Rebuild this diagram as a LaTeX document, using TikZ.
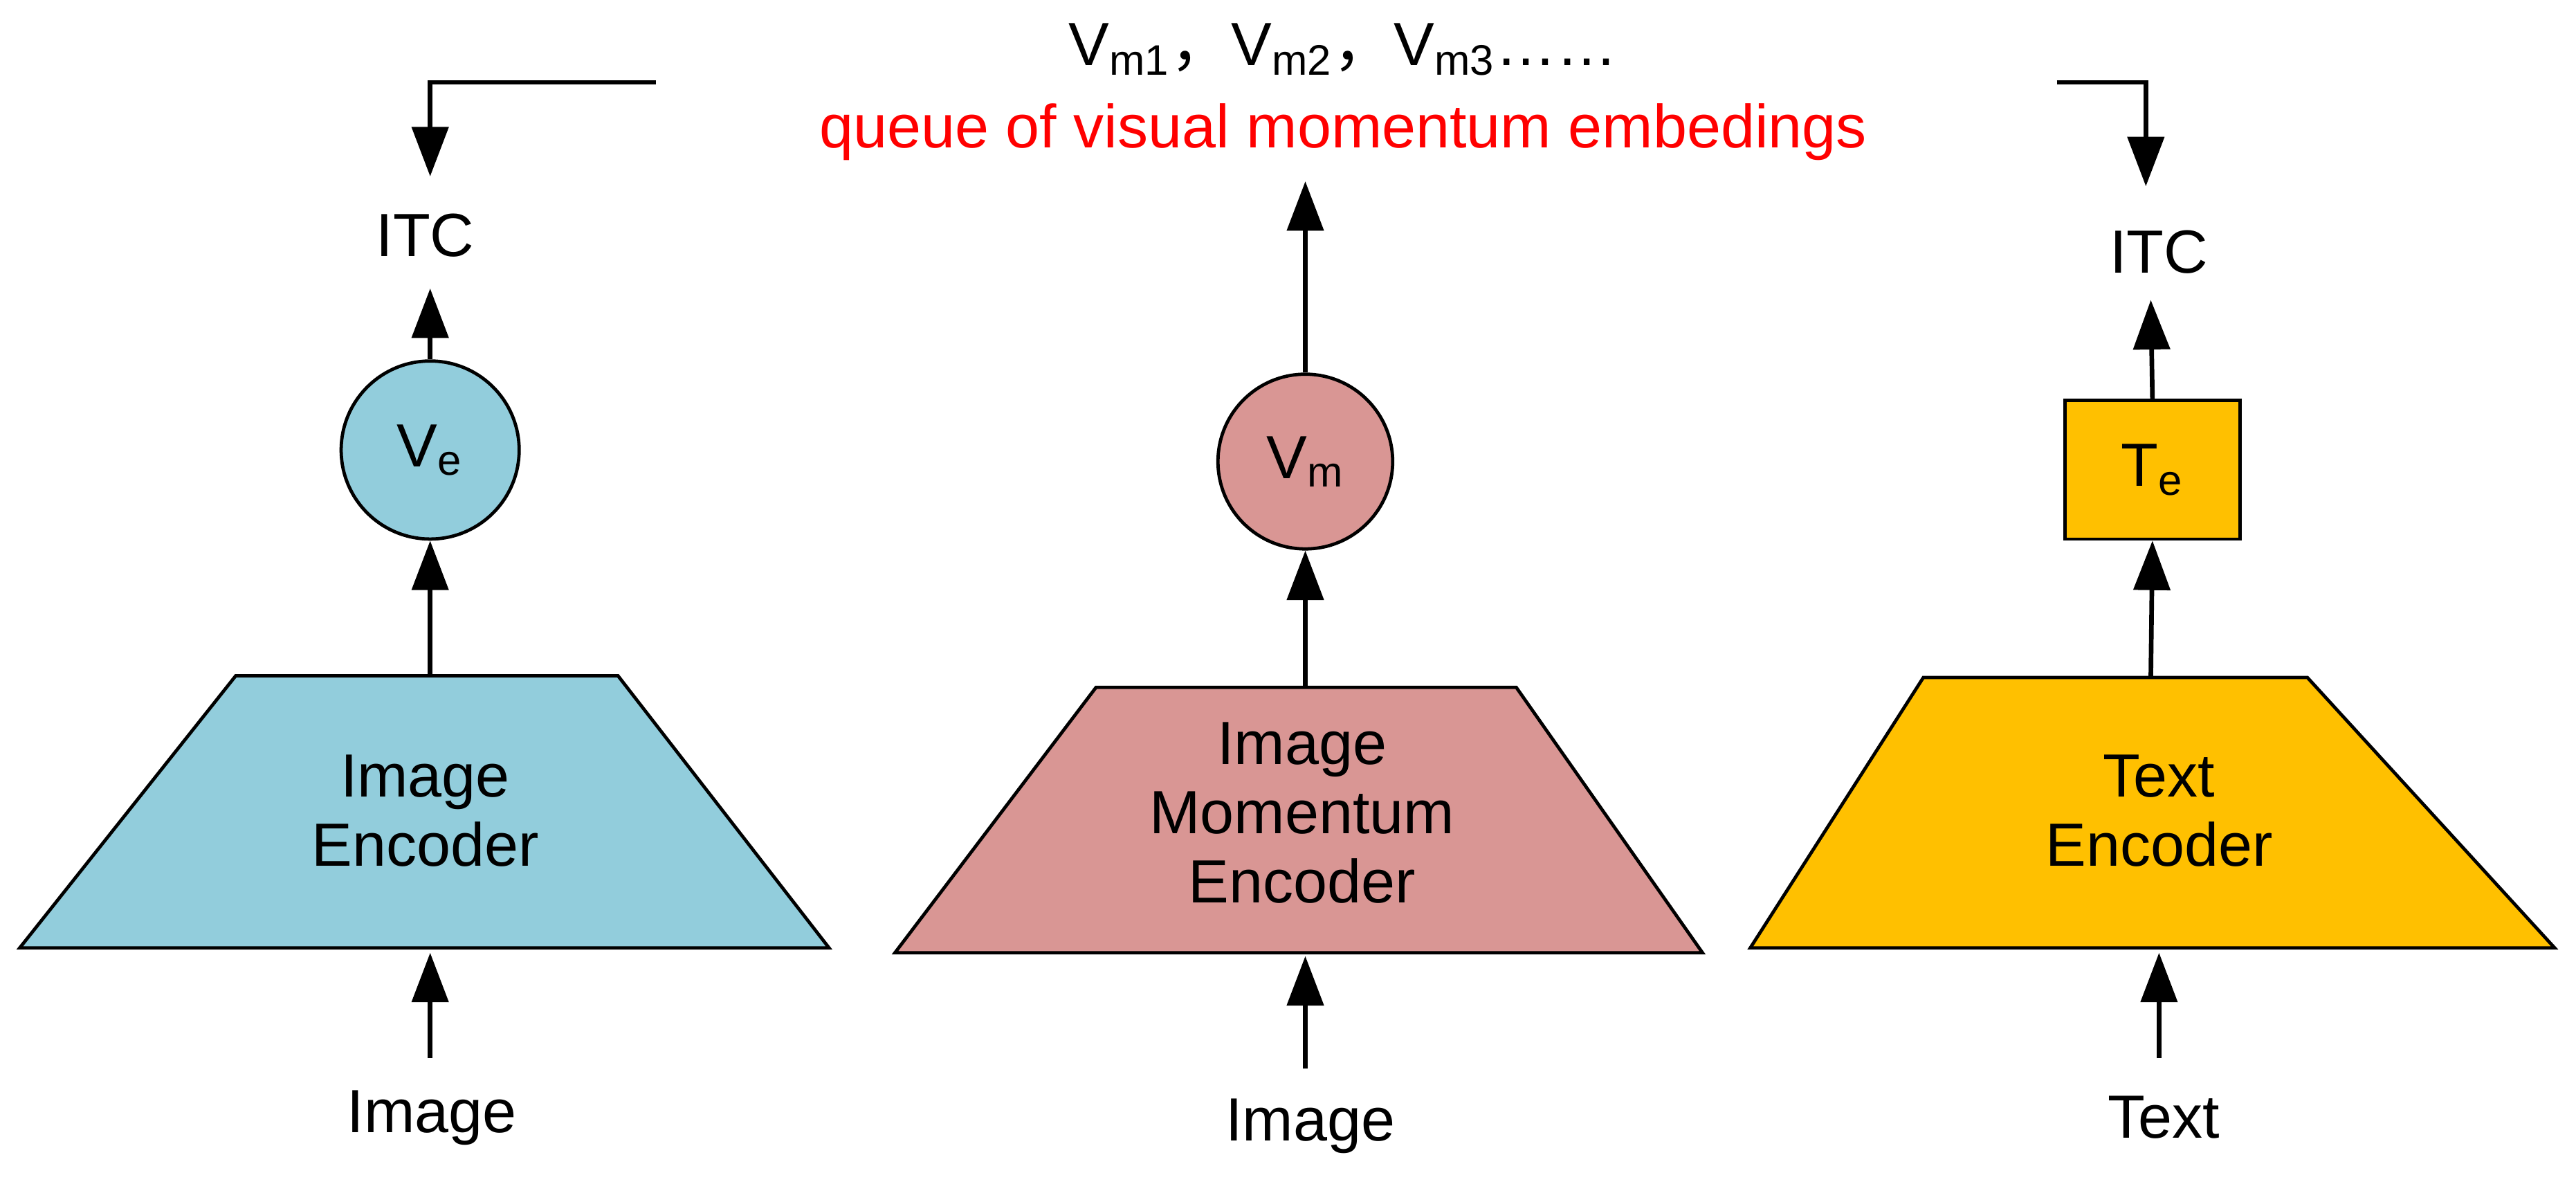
\documentclass[tikz,border=0pt]{standalone}
\usepackage{fontspec}
\setmainfont{Liberation Sans}
\newfontfamily\cjk{Noto Sans CJK SC}
\usetikzlibrary{arrows.meta}
\begin{document}
\begin{tikzpicture}[x=0.5pt,y=-0.5pt,
  every node/.style={font=\fontsize{18.5}{21}\selectfont},
  ln/.style={line width=1.4pt},
  ar/.style={ln,-{Triangle[length=15pt,width=11pt]}},
  shp/.style={draw,line width=1pt}]
\useasboundingbox (0,0) rectangle (1563,717);
\definecolor{cblue}{HTML}{92CDDC}
\definecolor{cpink}{HTML}{D99694}
\definecolor{cgold}{HTML}{FFC000}
% encoders
\draw[shp,fill=cblue] (12,575) -- (143,410) -- (375,410) -- (503,575) -- cycle;
\draw[shp,fill=cpink] (543,578) -- (665,417) -- (920,417) -- (1033,578) -- cycle;
\draw[shp,fill=cgold] (1062,575) -- (1167,411) -- (1400,411) -- (1550,575) -- cycle;
\node[align=center] (ie) at (258,492) {Image\\Encoder};
\node[align=center] (ime) at (790,493) {Image\\Momentum\\Encoder};
\node[align=center] (te) at (1310,492) {Text\\Encoder};
\coordinate (iet) at (261,410); \coordinate (imet) at (792,417); \coordinate (tet) at (1305,411);
\coordinate (ieb) at (261,578); \coordinate (imeb) at (792,580); \coordinate (teb) at (1310,578);
% embeddings
\node[shp,circle,fill=cblue,minimum size=54pt,inner sep=0] (ve) at (261,273) {V\textsubscript{e}};
\node[shp,circle,fill=cpink,minimum size=53pt,inner sep=0] (vm) at (792,280) {V\textsubscript{m}};
\node[shp,rectangle,fill=cgold,minimum width=53pt,minimum height=42pt,inner sep=0] (tebox) at (1306,285) {T\textsubscript{e}};
% labels
\node (itc1) at (258,143) {ITC};
\node (itc2) at (1310,153) {ITC};
\node (im1) at (262,678) {Image};
\node (im2) at (795,683) {Image};
\node (tx) at (1313,678) {Text};
\node (q) at (815,30) {V\textsubscript{m1}{\cjk ，}V\textsubscript{m2}{\cjk ，}V\textsubscript{m3}……};
\node[text=red] (qr) at (815,80) {queue of visual momentum embedings};
% arrows
\coordinate (a1) at (261,642); \coordinate (a2) at (792,648); \coordinate (a3) at (1310,642);
\draw[ar] (a1) -- (ieb);
\draw[ar] (a2) -- (imeb);
\draw[ar] (a3) -- (teb);
\draw[ar] (iet) -- (ve.south);
\draw[ar] (imet) -- (vm.south);
\draw[ar] (tet) -- (tebox.south);
\draw[ar] (ve.north) -- (261,175);
\draw[ar] (tebox.north) -- (1305,182);
\draw[ar] (vm.north) -- (792,110);
\coordinate (l0) at (398,50); \coordinate (r0) at (1248,50);
\draw[ar] (l0) -- (261,50) -- (261,107);
\draw[ar] (r0) -- (1302,50) -- (1302,113);
\end{tikzpicture}
\end{document}
